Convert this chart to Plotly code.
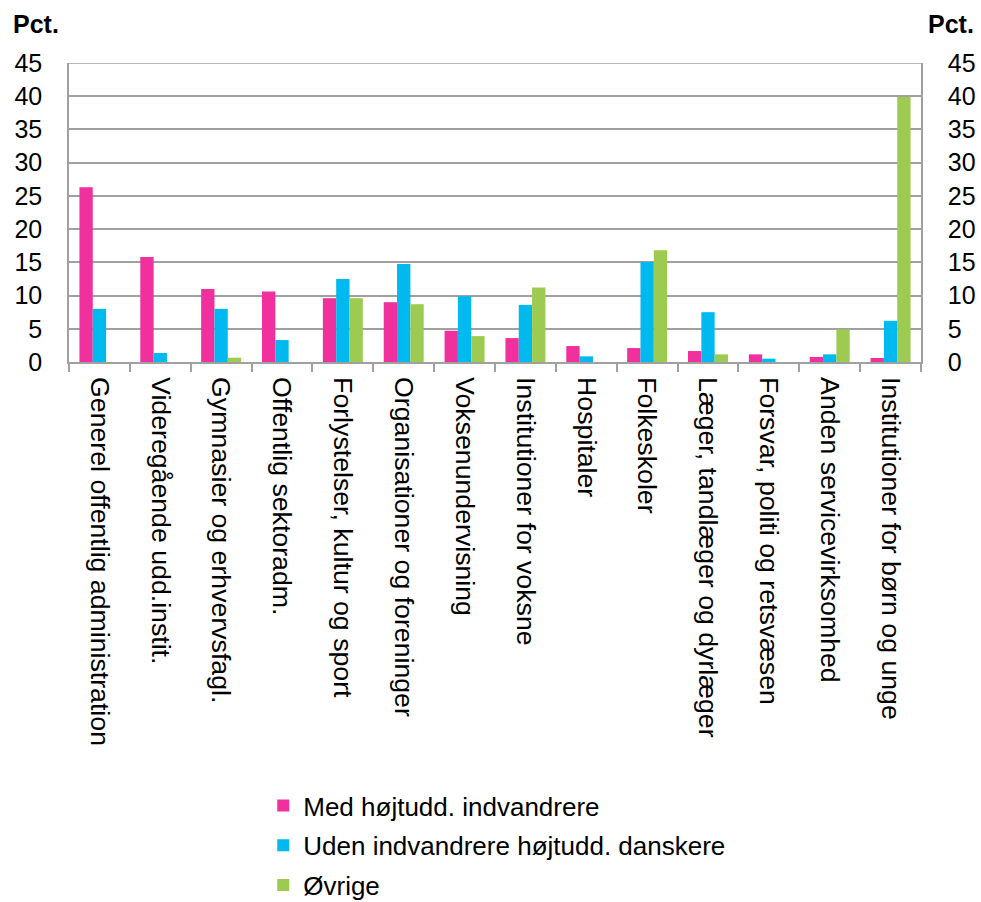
import plotly.graph_objects as go

categories = [
    "Generel offentlig administration",
    "Videregående udd.instit.",
    "Gymnasier og erhvervsfagl.",
    "Offentlig sektoradm.",
    "Forlystelser, kultur og sport",
    "Organisationer og foreninger",
    "Voksenundervisning",
    "Institutioner for voksne",
    "Hospitaler",
    "Folkeskoler",
    "Læger, tandlæger og dyrlæger",
    "Forsvar, politi og retsvæsen",
    "Anden servicevirksomhed",
    "Institutioner for børn og unge",
]
series_names = [
    "Med højtudd. indvandrere",
    "Uden indvandrere højtudd. danskere",
    "Øvrige",
]
med_indvandrere = [26.3, 15.8, 11.0, 10.6, 9.6, 9.0, 4.7, 3.6, 2.4, 2.1, 1.65, 1.15, 0.75, 0.6]
uden_indvandrere = [8.0, 1.35, 8.0, 3.3, 12.5, 14.75, 9.9, 8.6, 0.85, 15.05, 7.5, 0.5, 1.15, 6.2]
oevrige = [0.0, 0.0, 0.65, 0.0, 9.6, 8.7, 3.9, 11.2, 0.0, 16.8, 1.15, 0.0, 4.9, 39.9]
y_ticks = [0, 5, 10, 15, 20, 25, 30, 35, 40, 45]

colors = ["#F0309C", "#00B9EF", "#9DCB52"]
FONT = "Liberation Sans, Arial, sans-serif"
GRID = "#A0A0A0"

fig = go.Figure()
for i, (name, vals) in enumerate(zip(series_names, [med_indvandrere, uden_indvandrere, oevrige])):
    fig.add_trace(go.Bar(
        x=categories, y=vals, name=name,
        marker=dict(color=colors[i], line=dict(width=0)),
        legendgroup=f"g{i}",
    ))

# invisible trace to carry the right-hand axis
fig.add_trace(go.Scatter(
    x=categories, y=oevrige, yaxis="y2", mode="lines",
    line=dict(width=0, color="rgba(0,0,0,0)"), showlegend=False, hoverinfo="skip",
))

fig.update_layout(
    width=981, height=902,
    margin=dict(l=69, r=60, t=63, b=540, autoexpand=False),
    paper_bgcolor="white", plot_bgcolor="white",
    font=dict(family=FONT, color="black", size=24),
    barmode="group", bargap=0.343, bargroupgap=0,
    showlegend=True,
    legend=dict(
        x=0.228, y=-1.405, xanchor="left", yanchor="top",
        orientation="v", traceorder="grouped", tracegroupgap=3,
        font=dict(family=FONT, size=26, color="black"),
        itemwidth=30, bgcolor="rgba(0,0,0,0)",
    ),
    xaxis=dict(
        type="category", tickangle=90, tickson="boundaries",
        ticks="outside", ticklen=8, tickwidth=1.5, tickcolor=GRID,
        showline=True, linecolor=GRID, linewidth=1.5,
        showgrid=False, ticklabelstandoff=8,
        tickfont=dict(family=FONT, size=26.7, color="black"),
    ),
    yaxis=dict(
        range=[0, 45], tickvals=y_ticks, ticktext=[str(v) for v in y_ticks],
        showgrid=True, gridcolor=GRID, gridwidth=1.5,
        showline=True, linecolor=GRID, linewidth=1.5,
        ticks="", ticklabelstandoff=20, zeroline=False,
        tickfont=dict(family=FONT, size=25, color="black"),
    ),
    yaxis2=dict(
        range=[0, 45], tickvals=y_ticks, ticktext=[str(v) for v in y_ticks],
        overlaying="y", side="right", showgrid=False,
        showline=True, linecolor=GRID, linewidth=1.5,
        ticks="", ticklabelstandoff=20, zeroline=False,
        tickfont=dict(family=FONT, size=25, color="black"),
    ),
    annotations=[
        dict(text="<b>Pct.</b>", xref="paper", yref="paper", x=-0.068, y=1.13,
             xanchor="left", yanchor="middle", showarrow=False,
             font=dict(family=FONT, size=25, color="black")),
        dict(text="<b>Pct.</b>", xref="paper", yref="paper", x=1.0645, y=1.13,
             xanchor="right", yanchor="middle", showarrow=False,
             font=dict(family=FONT, size=25, color="black")),
    ],
)
# top border line
fig.add_shape(type="line", xref="paper", yref="y", x0=0, x1=1, y0=45, y1=45,
              line=dict(color=GRID, width=1.5))

fig.write_html("out.html")
